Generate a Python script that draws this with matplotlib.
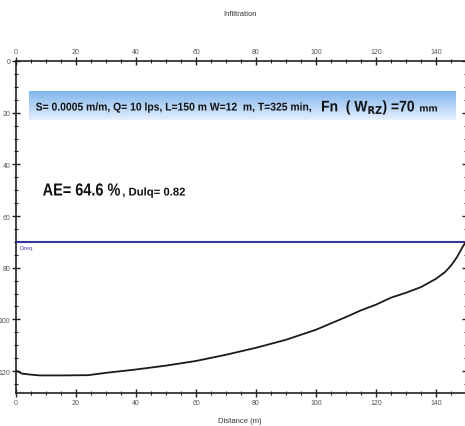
import numpy as np
import matplotlib
matplotlib.use("Agg")
import matplotlib.pyplot as plt
from matplotlib.ticker import MultipleLocator
from matplotlib.textpath import TextPath
from matplotlib.patches import PathPatch
from matplotlib.font_manager import FontProperties
from matplotlib.transforms import Affine2D

# infiltration profile
dist = [0, 2, 5, 8, 15, 24, 30, 40, 50, 60, 70, 80, 90, 100, 110, 115,
        120, 125, 130, 135, 140, 143, 145, 147, 149, 150]
infil = [119.8, 121.0, 121.4, 121.7, 121.7, 121.6, 120.7, 119.4, 117.9, 116.1,
         113.7, 111.0, 107.9, 104.0, 99.1, 96.5, 94.3, 91.6, 89.7, 87.5,
         84.3, 81.7, 79.2, 75.9, 71.7, 70.0]
dreq = 70

FONT = ["Liberation Sans", "DejaVu Sans"]
TICKC = "#555555"
W, H = 465, 427

fig = plt.figure(figsize=(W/100, H/100), dpi=100)
ax = fig.add_axes([16/W, 1-394/H, 450/W, (394-62)/H])

ax.plot(dist, infil, color="#1a1a1a", lw=1.3, zorder=4)
ax.axhline(dreq, color="#35359a", lw=1.5, zorder=3)
ax.text(1.0, dreq + 1.3, "Dreq", color="#5050b0", fontsize=4.5,
        family=FONT, va="top", ha="left")

ax.xaxis.set_major_locator(MultipleLocator(20))
ax.xaxis.set_minor_locator(MultipleLocator(5))
ax.yaxis.set_major_locator(MultipleLocator(20))
ax.yaxis.set_minor_locator(MultipleLocator(5))
ax.tick_params(which="both", direction="inout", top=True, right=True,
               labeltop=True, labelbottom=True, labelleft=True, labelright=False,
               colors="#222222", labelcolor=TICKC, labelsize=5, pad=1)
ax.tick_params(which="major", length=6, width=1.0)
ax.tick_params(which="minor", length=3, width=0.8)
for sp in ax.spines.values():
    sp.set_linewidth(1.2)
    sp.set_color("#222222")

# gradient banner
grad = np.linspace(0, 1, 64).reshape(-1, 1)
top = np.array([0.50, 0.71, 0.93])
bot = np.array([0.90, 0.94, 0.99])
img = top + (bot - top) * grad[..., None]
ax.imshow(img, extent=[(29-16)/3, (455-16)/3, 23.0, 12.0], aspect="auto",
          zorder=2, interpolation="bilinear")
ax.set_xlim(0, 150)
ax.set_ylim(128.5, 0)
for lab in ax.get_xticklabels() + ax.get_yticklabels():
    lab.set_family(FONT)

BOLD = FontProperties(family=FONT, weight="bold")


def narrow_text(s, px0, px1, base, cap):
    # condensed bold text: cap height `cap` px, spanning px0..px1, baseline at `base`
    # (all in image pixels from the top-left corner)
    size = cap / 0.716
    tp = TextPath((0, 0), s, size=size, prop=BOLD)
    ext = tp.get_extents()
    sx = (px1 - px0) / ext.width
    tr = Affine2D().translate(-ext.x0, 0).scale(sx, 1).translate(px0, H - base)
    fig.patches.append(PathPatch(tr.transform_path(tp), fc="#111111", ec="none",
                                 lw=0, transform=None, figure=fig, zorder=6))


narrow_text("S= 0.0005 m/m, Q= 10 lps, L=150 m W=12  m, T=325 min,", 36, 311, 111.5, 8)
narrow_text("Fn  ( W$_{\\mathbf{RZ}}$) =70", 322, 414, 112.5, 11)
narrow_text("mm", 420, 437, 112.5, 7)
narrow_text("AE= 64.6 %", 43, 120, 196.5, 12.5)
narrow_text(", Dulq= 0.82", 123, 185, 196.5, 8)

fig.text(240/W, 1-15/H, "Infiltration", fontsize=5.5, family=FONT,
         ha="center", va="center", color="#333333")
fig.text(240/W, 1-422/H, "Distance (m)", fontsize=5.5, family=FONT,
         ha="center", va="center", color="#333333")

fig.savefig("out.png", dpi=100, facecolor="white")
